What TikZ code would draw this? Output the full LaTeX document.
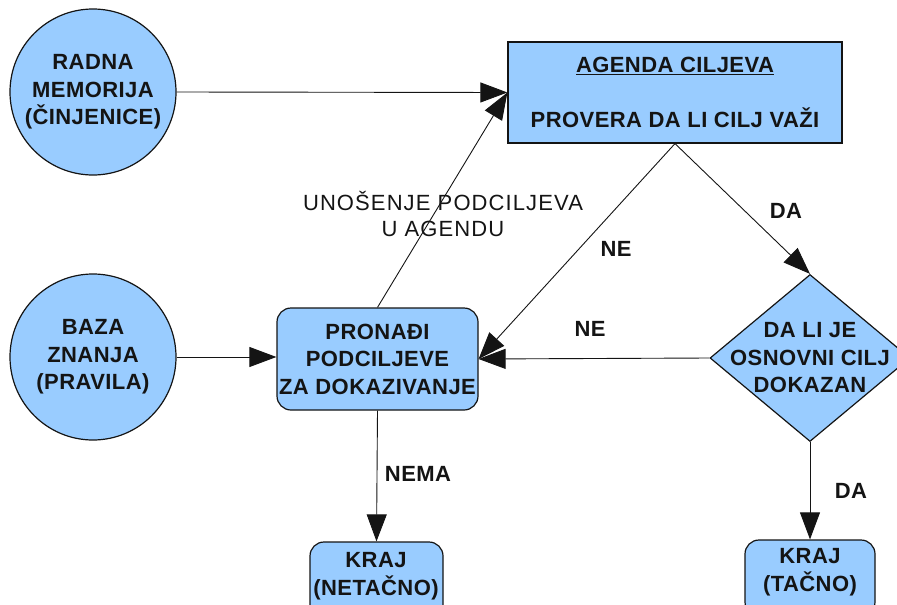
\documentclass[tikz,border=0pt]{standalone}
\usepackage{fontspec}
\setmainfont{Liberation Sans}
\usetikzlibrary{shapes.geometric,arrows.meta}
\definecolor{fillblue}{HTML}{99CCFF}
\definecolor{ink}{HTML}{141414}
\begin{document}
\begin{tikzpicture}[x=1pt,y=-1pt,
  shapeline/.style={draw=ink,line width=1.2pt,fill=fillblue},
  circ/.style={shapeline,circle,minimum size=166pt,inner sep=0pt},
  rbox/.style={shapeline,rounded corners=14pt,inner sep=0pt},
  sqbox/.style={shapeline,inner sep=0pt},
  dia/.style={shapeline,diamond,inner sep=0pt,minimum width=200pt,minimum height=167pt},
  txt/.style={font=\bfseries\fontsize{22}{27.5}\selectfont\addfontfeatures{LetterSpace=2},align=center,text=ink,inner sep=0pt},
  lbl/.style={font=\bfseries\fontsize{22}{27.5}\selectfont\addfontfeatures{LetterSpace=2},text=ink,inner sep=0pt},
  note/.style={font=\fontsize{22}{26}\selectfont\addfontfeatures{LetterSpace=5},align=center,text=ink,inner sep=0pt},
  flow/.style={draw=ink,line width=0.9pt,-{Triangle[length=27pt,width=20pt]}},
]
\useasboundingbox (0,0) rectangle (897,605);
\clip (0,0) rectangle (897,605);

% shapes
\node[circ] (rm) at (93,92) {};
\node[txt] (rmt) at (rm) {RADNA\\MEMORIJA\\(ČINJENICE)};
\node[circ] (bz) at (93,357) {};
\node[txt] (bzt) at (bz) {BAZA\\ZNANJA\\(PRAVILA)};
\node[sqbox,minimum width=334pt,minimum height=101pt] (ag) at (675,92.5) {};
\node[txt] (agt) at (ag) {\underline{AGENDA CILJEVA}\\[27.5pt]PROVERA DA LI CILJ VAŽI};
\node[rbox,minimum width=201pt,minimum height=102pt] (pr) at (377.5,359) {};
\node[txt] (prt) at (pr) {PRONAĐI\\PODCILJEVE\\ZA DOKAZIVANJE};
\node[dia] (dk) at (810,358) {};
\node[txt] (dkt) at (dk) {DA LI JE\\OSNOVNI CILJ\\DOKAZAN};
\node[rbox,minimum width=133pt,minimum height=76pt] (kn) at (376.5,580) {};
\node[txt] (knt) at (376,576) {KRAJ\\(NETAČNO)};
\node[rbox,minimum width=130pt,minimum height=76pt] (kt) at (810,578) {};
\node[txt] (ktt) at (810,572) {KRAJ\\(TAČNO)};

% connectors
\draw[flow] (rm.east) -- (ag.west);
\draw[flow] (bz.east) -- (bz -| pr.west);
\draw[flow] (pr.north) -- (ag.west);
\draw[flow] (ag.south) -- (pr.east);
\draw[flow] (dk.west) -- (pr.east);
\draw[flow] (ag.south) -- (dk.north);
\draw[flow] (pr.south) -- (kn.north);
\draw[flow] (dk.south) -- (kt.north);

% connector labels
\node[note] (unos) at (443,214) {UNOŠENJE PODCILJEVA\\U AGENDU};
\node[lbl] (ne1) at (616,249) {NE};
\node[lbl] (ne2) at (590,329) {NE};
\node[lbl] (da1) at (786,211) {DA};
\node[lbl] (nema) at (418,474) {NEMA};
\node[lbl] (da2) at (851,491) {DA};
\end{tikzpicture}
\end{document}
